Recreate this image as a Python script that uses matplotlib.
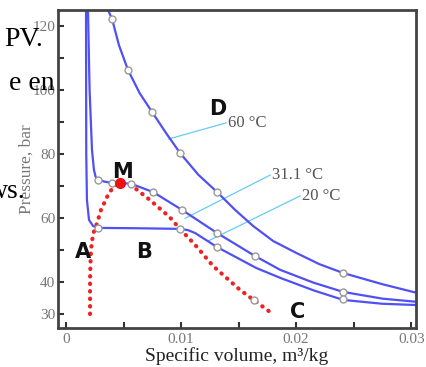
import matplotlib
matplotlib.use('Agg')
from matplotlib import pyplot as plt

# isotherms (specific volume m3/kg, pressure bar)
v_60 = [0.00365, 0.0040, 0.0046, 0.00539, 0.0064, 0.00748, 0.0087, 0.00991, 0.0115, 0.01313,
        0.0147, 0.01626, 0.0180, 0.0200, 0.0220, 0.02409, 0.0275, 0.0305]
p_60 = [125.0, 122.2, 114.0, 106.2, 99.0, 93.1, 86.5, 80.3, 73.5, 68.1,
        62.5, 57.5, 52.8, 49.1, 45.6, 42.8, 39.3, 36.6]

v_31 = [0.00191, 0.00205, 0.00226, 0.00243, 0.00258, 0.00278, 0.0033, 0.0040, 0.0047, 0.00565,
        0.00757, 0.01009, 0.01313, 0.01643, 0.01861, 0.0215, 0.02409, 0.0275, 0.0305]
p_31 = [125.0, 100.0, 81.2, 75.0, 72.8, 72.0, 71.4, 70.9, 70.9, 70.7,
        68.1, 62.5, 55.3, 48.1, 43.8, 39.8, 36.9, 34.8, 33.8]

v_20 = [0.00174, 0.00176, 0.00182, 0.0020, 0.00235, 0.00278, 0.0060, 0.00991, 0.0106, 0.01122,
        0.01313, 0.01652, 0.01861, 0.0215, 0.02409, 0.0275, 0.0305]
p_20 = [125.0, 80.0, 65.6, 59.4, 57.5, 56.9, 56.8, 56.6, 56.2, 55.3,
        50.9, 44.4, 41.3, 37.4, 34.4, 33.2, 32.8]

# saturation dome
v_dome = [0.00209, 0.00209, 0.00212, 0.00217, 0.00235, 0.0027, 0.00304, 0.00365, 0.00417, 0.0047,
          0.00565, 0.0073, 0.0090, 0.0099, 0.01122, 0.01278, 0.01513, 0.01774]
p_dome = [30.0, 40.6, 45.0, 50.0, 55.0, 58.4, 62.5, 67.2, 70.0, 70.9,
          70.3, 65.6, 60.3, 56.6, 51.6, 45.0, 37.5, 30.6]

# open circle markers along curves
v_mk = [0.0040, 0.00539, 0.00748, 0.00991, 0.01313, 0.02409,
        0.00278, 0.0040, 0.00565, 0.00757, 0.01009, 0.01313, 0.01643, 0.02409,
        0.00278, 0.00991, 0.01313, 0.02409, 0.0163]
p_mk = [122.2, 106.2, 93.1, 80.3, 68.1, 42.8,
        72.0, 70.9, 70.7, 68.1, 62.5, 55.3, 48.1, 36.9,
        56.9, 56.6, 50.9, 34.6, 34.4]

crit = (0.0047, 70.9)

regions = ['M', 'D', 'A', 'B', 'C']
reg_v = [0.0040, 0.0124, 0.0008, 0.0061, 0.0195]
reg_p = [74.5, 94.0, 49.5, 49.5, 30.5]

temps = ['60 °C', '31.1 °C', '20 °C']
lead_v = [[0.00895, 0.01391], [0.01035, 0.01774], [0.01235, 0.02035]]
lead_p = [[84.7, 89.7], [59.9, 73.4], [52.8, 66.9]]

blue = '#5050f5'

fig = plt.figure(figsize=(4.26, 3.67), dpi=100)
ax = fig.add_axes([0.136, 0.106, 0.841, 0.867])

for v, p in [(v_60, p_60), (v_31, p_31), (v_20, p_20)]:
    ax.plot(v, p, color=blue, lw=1.6, zorder=2)

ax.plot(v_dome, p_dome, ls=(0, (0.1, 1.7)), color='#ee2222', lw=3.0,
        dash_capstyle='round', zorder=3)
ax.plot(v_mk, p_mk, 'o', ms=5, mfc='white', mec='#999999', mew=1.0, zorder=4)
ax.plot(*crit, 'o', ms=7, color='#ee1111', zorder=5)

for t, lv, lp in zip(temps, lead_v, lead_p):
    ax.plot(lv, lp, color='#66ccee', lw=0.9, zorder=1)
    ax.text(lv[1] + 0.0002, lp[1], t, family='Liberation Serif', fontsize=12,
            color='#555555', ha='left', va='center')

for r, v, p in zip(regions, reg_v, reg_p):
    ax.text(v, p, r, fontsize=15, fontweight='bold', ha='left', va='center',
            color='#111111')

ax.set_xlim(-0.0007, 0.03043)
ax.set_ylim(25.6, 125)
ax.set_xticks([0, 0.005, 0.01, 0.015, 0.02, 0.025, 0.03])
ax.set_xticklabels(['0', '', '0.01', '', '0.02', '', '0.03'])
ax.set_yticks([30, 40, 50, 60, 70, 80, 90, 100, 110, 120])
ax.set_yticklabels(['30', '40', '', '60', '', '80', '', '100', '', '120'])
ax.tick_params(direction='in', length=4, width=1.5, color='#333333',
               labelcolor='#777777', labelsize=11)
ax.tick_params(axis='y', pad=2)
for lab in ax.get_xticklabels() + ax.get_yticklabels():
    lab.set_family('Liberation Serif')
for s in ax.spines.values():
    s.set_linewidth(2.0)
    s.set_color('#444444')

ax.set_xlabel('Specific volume, m³/kg', family='Liberation Serif', fontsize=14,
              color='#222222', labelpad=1)
ax.set_ylabel('Pressure, bar', family='Liberation Serif', fontsize=12.5,
              color='#777777')
ax.yaxis.set_label_coords(-0.064, 0.5)

# text from the surrounding page that sits over the figure
for s, x, y in [('PV.', 43, 40), ('e en', 55, 84), ('ws.', 26, 192)]:
    fig.text(x / 426, 1 - y / 367, s, family='Liberation Serif', fontsize=20,
             ha='right', va='center', color='black', zorder=10)

fig.savefig('out.png', dpi=100)
